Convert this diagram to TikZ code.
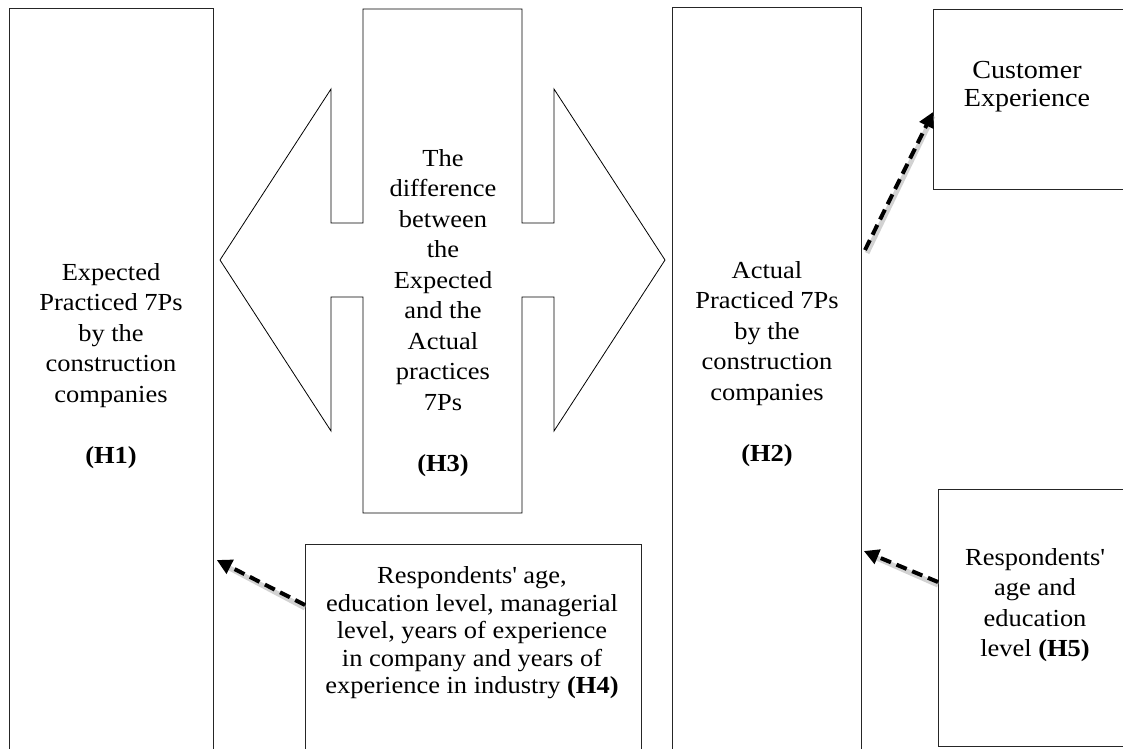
\documentclass[tikz,border=0pt]{standalone}
\usepackage{fontspec}
\setmainfont{Liberation Serif}[FakeStretch=1.08]
\usepackage{tikz}
\usetikzlibrary{arrows.meta,calc}

\tikzset{
  pillar/.style={draw=black!85, line width=0.8pt, inner sep=0pt, anchor=north west},
  txt/.style={align=center, inner sep=0pt, font=\fontsize{24.5}{30.5}\selectfont},
  dashlink/.style={black, line width=4pt, dash pattern=on 11pt off 6pt,
    -{Triangle[length=15pt,width=15pt]}},
  dashshade/.style={black!35, line width=5pt, opacity=0.5}
}

\begin{document}
\begin{tikzpicture}[x=1pt,y=-1pt]
\useasboundingbox (0,0) rectangle (1123,748);

% the tall columns
\node [pillar, minimum width=204, minimum height=760] (expected) at (9,8) {};
\node [pillar, minimum width=189, minimum height=760] (actual) at (672,7) {};
\node [pillar, minimum width=200, minimum height=180] (custbox) at (933,9) {};
\node [pillar, minimum width=336, minimum height=230] (h4box) at (305,544) {};
\node [pillar, minimum width=200, minimum height=257] (h5box) at (938,489) {};

% the double arrow in the middle
\draw [black, line width=0.8pt] (363,9) -- (522,9) -- (522,223) -- (554,223) -- (554,89)
  -- (665,260) -- (554,431) -- (554,297) -- (522,297) -- (522,513) -- (363,513)
  -- (363,297) -- (331,297) -- (331,431) -- (220,260) -- (331,89) -- (331,223)
  -- (363,223) -- cycle;

\node [txt] (exptxt) at (111,366) {Expected\\Practiced 7Ps\\by the\\construction\\companies\\[30.5pt]\textbf{(H1)}};
\node [txt] (acttxt) at (767,364) {Actual\\Practiced 7Ps\\by the\\construction\\companies\\[30.5pt]\textbf{(H2)}};
\node [txt] (difftxt) at (443,313) {The\\difference\\between\\the\\Expected\\and the\\Actual\\practices\\7Ps\\[30.5pt]\textbf{(H3)}};
\node [txt, font=\fontsize{26}{28}\selectfont] (custtxt) at (1027,87) {Customer\\Experience};
\node [txt, font=\fontsize{24.5}{27.5}\selectfont] (h4txt) at (472,633) {Respondents\textquotesingle{} age,\\education level, managerial\\level, years of experience\\in company and years of\\experience in industry \textbf{(H4)}};
\node [txt] (h5txt) at (1035,605) {Respondents\textquotesingle\\age and\\education\\level \textbf{(H5)}};

% dashed links
\coordinate (acttail) at (865,250);
\draw [dashshade] ($(acttail)+(2,3)$) -- ($(custbox.west |- 0,112)+(0,4)$);
\draw [dashlink] (acttail) -- (custbox.west |- 0,112);
\draw [dashshade] ($(h5box.west |- 0,582)+(0,3)$) -- ($(actual.east |- 0,551)+(8,4)$);
\draw [dashlink] (h5box.west |- 0,582) -- ($(actual.east |- 0,551)+(2,0)$);
\draw [dashshade] ($(h4box.west |- 0,605)+(0,3)$) -- ($(expected.east |- 0,560)+(8,4)$);
\draw [dashlink] (h4box.west |- 0,605) -- ($(expected.east |- 0,560)+(3,0)$);
\end{tikzpicture}
\end{document}
